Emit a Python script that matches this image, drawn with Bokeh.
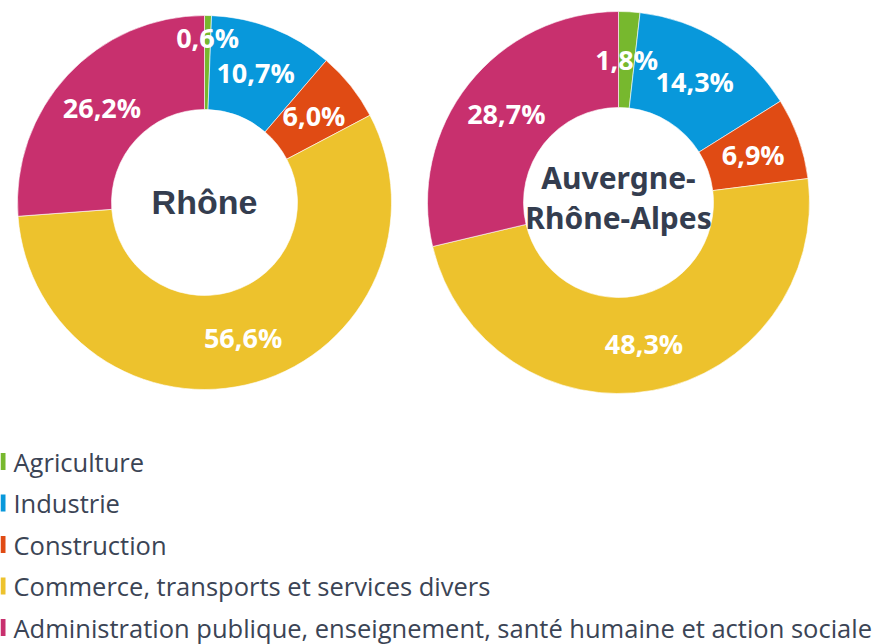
import math
from bokeh.plotting import figure
from bokeh.models import Range1d, ColumnDataSource
from bokeh.core.properties import value
from bokeh.embed import file_html
from bokeh.resources import INLINE

# ---- data ----
categories = [
    "Agriculture",
    "Industrie",
    "Construction",
    "Commerce, transports et services divers",
    "Administration publique, enseignement, santé humaine et action sociale",
]
rhone_values = [0.6, 10.7, 6.0, 56.6, 26.2]
ara_values = [1.8, 14.3, 6.9, 48.3, 28.7]
chart_titles = [["Rhône"], ["Auvergne-", "Rhône-Alpes"]]
colors = ["#77B82E", "#0898DB", "#E04B14", "#EDC22D", "#C8306E"]

# ---- layout (canvas pixels) ----
W, H = 877, 644


def cx_(rx):
    return rx


def cy_(ry):
    return H - ry


p = figure(width=W, height=H, x_range=Range1d(0, W), y_range=Range1d(0, H),
           output_backend="svg", toolbar_location=None,
           x_axis_location=None, y_axis_location=None,
           min_border=0, min_border_left=0, min_border_right=0,
           min_border_top=0, min_border_bottom=0)
p.grid.visible = False
p.outline_line_color = None
p.background_fill_color = "white"
p.border_fill_color = "white"

TXT = "#343D4F"


def fmt(v):
    return f"{v:.1f}".replace(".", ",") + "%"


def donut(vals, cx, cy, r_out, r_in, label_r, title_lines, title_font, title_size, title_gap, title_dy):
    total = sum(vals)
    starts, ends, lx, ly = [], [], [], []
    cum = 0.0
    for i, v in enumerate(vals):
        a0 = math.pi / 2 - 2 * math.pi * cum / total
        a1 = math.pi / 2 - 2 * math.pi * (cum + v) / total
        starts.append(a0)
        ends.append(a1)
        mid = (a0 + a1) / 2
        lx.append(cx + label_r[i] * math.cos(mid))
        ly.append(cy + label_r[i] * math.sin(mid))
        cum += v
    src = ColumnDataSource(dict(x=[cx] * len(vals), y=[cy] * len(vals), s=starts, e=ends,
                                c=colors, lx=lx, ly=ly, t=[fmt(v) for v in vals]))
    p.annular_wedge(x="x", y="y", inner_radius=r_in, outer_radius=r_out,
                    start_angle="s", end_angle="e", direction="clock",
                    fill_color="c", line_color="white", line_width=0.6, source=src)
    p.text(x="lx", y="ly", text="t", source=src, text_color="white",
           text_font=value("Open Sans"), text_font_style="bold", text_font_size="27px",
           text_align="center", text_baseline="middle")
    n = len(title_lines)
    ty = [cy + title_dy + (n - 1) / 2 * title_gap - k * title_gap for k in range(n)]
    p.text(x=[cx] * n, y=ty, text=title_lines, text_color=TXT,
           text_font=value(title_font), text_font_style="bold", text_font_size=title_size,
           text_align="center", text_baseline="middle")


mid_l = (187 + 93) / 2
donut(rhone_values, cx_(204), cy_(202), 187, 93,
      [165, mid_l, mid_l, mid_l, mid_l], chart_titles[0], "Liberation Sans", "34px", 0, 1)
mid_r = (191 + 95) / 2
donut(ara_values, cx_(618), cy_(202), 191, 95,
      [mid_r] * 5, chart_titles[1], "Noto Sans", "30px", 40, 5)

# ---- legend ----
leg_top = cy_(461)
leg_gap = 41.5
ly = [leg_top - i * leg_gap for i in range(len(categories))]
p.rect(x=[cx_(2.5)] * len(categories), y=ly, width=5, height=17, fill_color=colors, line_color=None)
p.text(x=[cx_(13)] * len(categories), y=ly, text=categories, text_color="#3B4455",
       text_font=value("Open Sans"), text_font_size="25.5px",
       text_align="left", text_baseline="middle")

open("out.html", "w").write(file_html(p, INLINE))
